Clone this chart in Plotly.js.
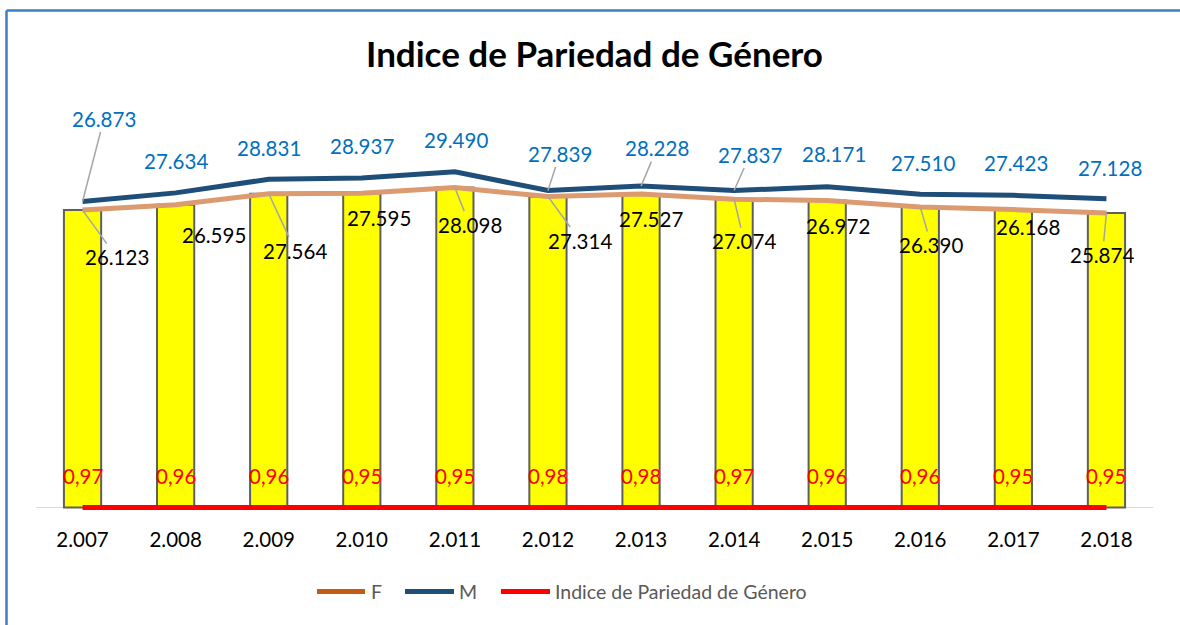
<!DOCTYPE html>
<html>
<head>
<meta charset="utf-8">
<script src="https://cdn.plot.ly/plotly-3.0.1.min.js"></script>
<style>html,body{margin:0;padding:0;background:#fff;}#chart{width:1180px;height:625px;}</style>
</head>
<body>
<div id="chart"></div>
<script>
// ---- data ----
var years = ['2.007','2.008','2.009','2.010','2.011','2.012','2.013','2.014','2.015','2.016','2.017','2.018'];
var F = [26123, 26595, 27564, 27595, 28098, 27314, 27527, 27074, 26972, 26390, 26168, 25874];
var M = [26873, 27634, 28831, 28937, 29490, 27839, 28228, 27837, 28171, 27510, 27423, 27128];
var IPG = [0.97, 0.96, 0.96, 0.95, 0.95, 0.98, 0.98, 0.97, 0.96, 0.96, 0.95, 0.95];

// ---- label placement (pixel offsets from the point) ----
var M_dx = [21.5, 0, 0, 0.5, 1, 12, 16, 16, 7, 3, 3, 3.5];
var M_dy = [-83, -32, -31, -32, -32, -37, -38, -36, -33, -31, -32, -31];
var M_leader = [1,0,0,0,0,1,1,1,0,0,0,0];
var F_dx = [34, 38, 26.5, 17.5, 14.7, 32, 10, 10, 10.5, 11, 15, -4];
var F_dy = [47, 30, 57, 25, 37, 44, 25, 42, 26, 38, 17, 42];
var F_leader = [1,0,1,0,1,1,0,1,0,1,0,1];

var FONT = 'Lato, "Open Sans", sans-serif';
var ML = 36, MR = 27, MT = 109, MB = 113.6, W = 1180, H = 625;
var PW = W - ML - MR, PH = H - MT - MB;
function px2x(px){ return (px - ML) / PW; }
function py2y(py){ return (H - MB - py) / PH; }

function fmtThousands(v){ return String(v).replace(/\B(?=(\d{3})+(?!\d))/g, '.'); }
function fmtDec(v){ return v.toFixed(2).replace('.', ','); }

var traces = [
  {type:'bar', x: years, y: F, width: 0.4, hoverinfo:'skip',
   marker:{color:'#FFFF00', line:{color:'#5F5F5F', width:2}}, showlegend:false},
  {type:'scatter', mode:'lines', x: years, y: F, name:'F',
   line:{color:'#DB9A70', width:5}, showlegend:false},
  {type:'scatter', mode:'lines', x: years, y: M, name:'M',
   line:{color:'#1F4E79', width:5}, showlegend:false},
  {type:'scatter', mode:'lines', x: years, y: IPG, name:'Indice de Pariedad de Género',
   line:{color:'#FF0000', width:5}, showlegend:false}
];

var annotations = [];
for (var i = 0; i < years.length; i++) {
  annotations.push({x: i, y: M[i], xref:'x', yref:'y', text: fmtThousands(M[i]),
    showarrow:true, arrowhead:0, arrowwidth:1.5, standoff:0,
    arrowcolor: M_leader[i] ? '#A6A6A6' : 'rgba(0,0,0,0)',
    ax: M_dx[i], ay: M_dy[i], axref:'pixel', ayref:'pixel',
    font:{family:FONT, size:20.5, color:'#0070C0'}});
  annotations.push({x: i, y: F[i], xref:'x', yref:'y', text: fmtThousands(F[i]),
    showarrow:true, arrowhead:0, arrowwidth:1.5, standoff:0,
    arrowcolor: F_leader[i] ? '#A6A6A6' : 'rgba(0,0,0,0)',
    ax: F_dx[i], ay: F_dy[i], axref:'pixel', ayref:'pixel',
    font:{family:FONT, size:20.5, color:'#000000'}});
  annotations.push({x: i, y: IPG[i], xref:'x', yref:'y', text: fmtDec(IPG[i]),
    showarrow:false, yshift:31.5,
    font:{family:FONT, size:20.5, color:'#FF0000'}});
}

// legend (drawn manually)
var legendItems = [
  {label:'F', color:'#C55A11', x0:317, x1:365, tx:369},
  {label:'M', color:'#1F4E79', x0:405, x1:454, tx:457},
  {label:'Indice de Pariedad de Género', color:'#FF0000', x0:501, x1:550, tx:553}
];
var shapes = [];
legendItems.forEach(function(it){
  shapes.push({type:'line', xref:'paper', yref:'paper', x0:px2x(it.x0), x1:px2x(it.x1),
    y0:py2y(592), y1:py2y(592), line:{color:it.color, width:5}});
  annotations.push({xref:'paper', yref:'paper', x:px2x(it.tx), y:py2y(592), text:it.label,
    showarrow:false, xanchor:'left', yanchor:'middle',
    font:{family:FONT, size:19.5, color:'#595959'}});
});
// outer frame
shapes.push({type:'line', xref:'paper', yref:'paper', x0:px2x(6.5), x1:px2x(6.5),
  y0:py2y(10.5), y1:py2y(640), line:{color:'#3D7DC3', width:2.5}});
shapes.push({type:'line', xref:'paper', yref:'paper', x0:px2x(6.5), x1:px2x(1190),
  y0:py2y(10.5), y1:py2y(10.5), line:{color:'#3D7DC3', width:2.5}});

var layout = {
  width: W, height: H, autosize:false,
  margin:{l:ML, r:MR, t:MT, b:MB, pad:0},
  paper_bgcolor:'#FFFFFF', plot_bgcolor:'#FFFFFF',
  title:{text:'Indice de Pariedad de Género', x:0.5, xref:'paper', y:1-55/H, yanchor:'middle',
    font:{family:FONT, size:35, color:'#000000', weight:'bold'}},
  xaxis:{type:'category', showline:false,
    ticks:'', showgrid:false, zeroline:false,
    tickfont:{family:FONT, size:20.5, color:'#000000'}, ticklabelstandoff:14},
  yaxis:{range:[-300,35000], showticklabels:false, ticks:'', showline:false, showgrid:false,
    zeroline:true, zerolinecolor:'#D9D9D9', zerolinewidth:1.5},
  showlegend:false,
  barmode:'overlay',
  annotations: annotations,
  shapes: shapes
};

Plotly.newPlot('chart', traces, layout, {displayModeBar:false, staticPlot:true});
</script>
</body>
</html>
